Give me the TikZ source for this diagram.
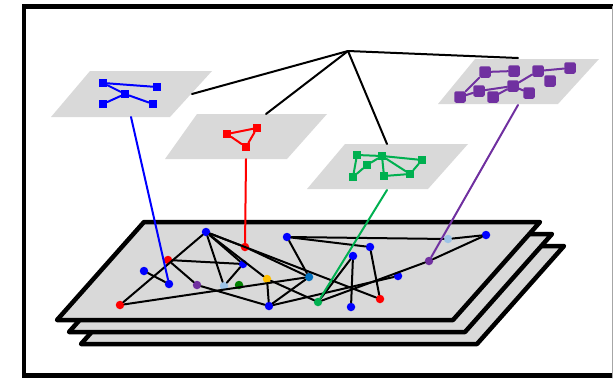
\documentclass[tikz,border=0pt]{standalone}
\usetikzlibrary{backgrounds}

\definecolor{planegray}{RGB}{217,217,217}
\definecolor{nblue}{RGB}{0,0,255}
\definecolor{nred}{RGB}{255,0,0}
\definecolor{ngreen}{RGB}{0,176,80}
\definecolor{npurple}{RGB}{112,48,160}
\definecolor{norange}{RGB}{255,192,0}
\definecolor{nlight}{RGB}{157,195,230}
\definecolor{nsteel}{RGB}{0,112,192}
\definecolor{ndark}{RGB}{0,128,0}

\begin{document}
\begin{tikzpicture}[x=1pt, y=-1pt, line cap=round,
  net node/.style={circle, fill, inner sep=0pt, minimum size=8.5pt},
  sq node/.style={rectangle, fill, inner sep=0pt, minimum size=8pt},
  pu node/.style={rectangle, rounded corners=2pt, fill, inner sep=0pt, minimum size=11.5pt},
  plane/.style={fill=planegray},
  layer/.style={fill=planegray, draw=black, line width=4.5pt, line join=round},
  link/.style={line width=2pt}]

\useasboundingbox (0,0) rectangle (613,378);

% frame
\begin{scope}
\clip (0,0) rectangle (613,378);
\draw[line width=4.5pt] (24,6.5) rectangle (660,375.5);
\draw[gray!70, line width=0.8pt] (612,6.5) -- (612,378);
\end{scope}

% stacked layers
\draw[layer] (81,344) -- (477,344) -- (564,246) -- (168,246) -- cycle;
\draw[layer] (69,332) -- (465,332) -- (552,234) -- (156,234) -- cycle;
\draw[layer] (57,320) -- (453,320) -- (540,222) -- (144,222) -- cycle;

% small planes
\fill[plane] (51,117) -- (170,117) -- (212,71) -- (90,71) -- cycle;
\fill[plane] (165,159) -- (287,159) -- (327,114) -- (197,114) -- cycle;
\fill[plane] (307,189) -- (428,189) -- (468,144) -- (345,144) -- cycle;
\fill[plane] (438,104) -- (558,104) -- (599,59) -- (475,59) -- cycle;

% hub
\coordinate (hub) at (348,51);
\coordinate (bp) at (192,94);
\coordinate (rp) at (266,114);
\coordinate (gp) at (387,144);
\coordinate (pp) at (518,58);
\draw[link] (hub) -- (bp);
\draw[link] (hub) -- (rp);
\draw[link] (hub) -- (gp);
\draw[link] (hub) -- (pp);

% blue plane
\node[sq node, nblue] (b1) at (103,83) {};
\node[sq node, nblue] (b2) at (157,87) {};
\node[sq node, nblue] (b3) at (125,94) {};
\node[sq node, nblue] (b4) at (103,104) {};
\node[sq node, nblue] (b5) at (153,104) {};
\draw[link, nblue] (b1) -- (b2);
\draw[link, nblue] (b1) -- (b3);
\draw[link, nblue] (b3) -- (b5);
\draw[link, nblue] (b4) -- (b3);

% red plane
\node[sq node, nred] (r1) at (227,134) {};
\node[sq node, nred] (r2) at (257,128) {};
\node[sq node, nred] (r3) at (246,147) {};
\draw[link, nred] (r1) -- (r2) -- (r3) -- (r1);

% green plane
\node[sq node, ngreen, minimum size=7.5pt] (g1) at (357,155) {};
\node[sq node, ngreen, minimum size=7.5pt] (g2) at (382,156) {};
\node[sq node, ngreen, minimum size=7.5pt] (g3) at (422,160) {};
\node[sq node, ngreen, minimum size=7.5pt] (g4) at (367,165) {};
\node[sq node, ngreen, minimum size=7.5pt] (g5) at (353,177) {};
\node[sq node, ngreen, minimum size=7.5pt] (g6) at (384,176) {};
\node[sq node, ngreen, minimum size=7.5pt] (g7) at (410,174) {};
\draw[link, ngreen] (g1) -- (g2);
\draw[link, ngreen] (g2) -- (g3);
\draw[link, ngreen] (g1) -- (g5);
\draw[link, ngreen] (g5) -- (g4);
\draw[link, ngreen] (g4) -- (g2);
\draw[link, ngreen] (g2) -- (g6);
\draw[link, ngreen] (g2) -- (g7);
\draw[link, ngreen] (g6) -- (g7);
\draw[link, ngreen] (g7) -- (g3);

% purple plane
\node[pu node, npurple] (p1) at (485,72) {};
\node[pu node, npurple] (p2) at (514,71) {};
\node[pu node, npurple] (p3) at (538,71) {};
\node[pu node, npurple] (p4) at (570,68) {};
\node[pu node, npurple] (p5) at (550,81) {};
\node[pu node, npurple] (p6) at (513,86) {};
\node[pu node, npurple] (p7) at (479,91) {};
\node[pu node, npurple] (p8) at (529,93) {};
\node[pu node, npurple] (p9) at (493,97) {};
\node[pu node, npurple] (p10) at (460,97) {};
\draw[link, npurple] (p1) -- (p2);
\draw[link, npurple] (p3) -- (p4);
\draw[link, npurple] (p1) -- (p10);
\draw[link, npurple] (p10) -- (p7);
\draw[link, npurple] (p7) -- (p6);
\draw[link, npurple] (p6) -- (p3);
\draw[link, npurple] (p9) -- (p6);
\draw[link, npurple] (p6) -- (p8);

% network on the top layer
\node[net node, nblue] (1) at (206,232) {};
\node[net node, nred] (2) at (245,247) {};
\node[net node, nred] (3) at (168,260) {};
\node[net node, nblue] (4) at (243,264) {};
\node[net node, nblue] (5) at (144,271) {};
\node[net node, nblue] (6) at (169,284) {};
\node[net node, npurple] (7) at (197,285) {};
\node[net node, nlight] (8) at (224,286) {};
\node[net node, ndark] (9) at (239,285) {};
\node[net node, norange] (10) at (267,279) {};
\node[net node, nblue] (11) at (269,306) {};
\node[net node, nred] (12) at (120,305) {};
\node[net node, nblue] (13) at (287,237) {};
\node[net node, nblue] (14) at (370,247) {};
\node[net node, nblue] (15) at (353,256) {};
\node[net node, nsteel] (16) at (309,277) {};
\node[net node, nblue] (17) at (398,276) {};
\node[net node, ngreen] (18) at (318,302) {};
\node[net node, nred] (19) at (380,299) {};
\node[net node, nblue] (20) at (351,307) {};
\node[net node, nlight] (21) at (448,239) {};
\node[net node, nblue] (22) at (486,235) {};
\node[net node, npurple] (23) at (429,261) {};

\draw[link] (1) -- (12);
\draw[link] (1) -- (8);
\draw[link] (1) -- (4);
\draw[link] (1) -- (10);
\draw[link] (1) -- (2);
\draw[link] (1) -- (19);
\draw[link] (2) -- (16);
\draw[link] (3) -- (4);
\draw[link] (3) -- (7);
\draw[link] (5) -- (6);
\draw[link] (7) -- (11);
\draw[link] (8) -- (4);
\draw[link] (10) -- (11);
\draw[link] (10) -- (18);
\draw[link] (11) -- (16);
\draw[link] (11) -- (17);
\draw[link] (12) -- (16);
\draw[link] (13) -- (16);
\draw[link] (13) -- (21);
\draw[link] (13) -- (14);
\draw[link] (14) -- (19);
\draw[link] (15) -- (20);
\draw[link] (15) -- (18);
\draw[link] (18) -- (23);
\draw[link] (23) -- (22);
\draw[link] (22) -- (21);

% links between planes and layer
\coordinate (bq) at (131,117);
\coordinate (rq) at (246,159);
\coordinate (gq) at (387,190);
\coordinate (pq) at (518,105);
\draw[link, nblue] (bq) -- (6);
\draw[link, nred] (rq) -- (2);
\draw[link, ngreen] (gq) -- (18);
\draw[link, npurple] (pq) -- (23);

\end{tikzpicture}
\end{document}
